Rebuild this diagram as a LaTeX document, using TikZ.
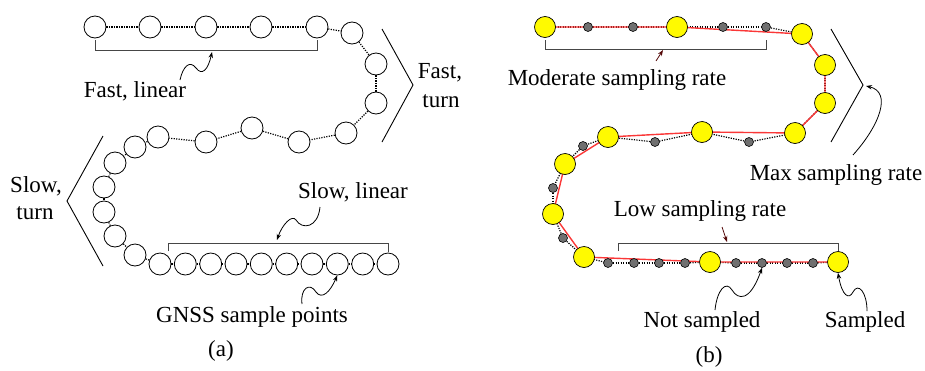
\documentclass[tikz,border=0pt]{standalone}
\usepackage{fontspec}
\setmainfont{Liberation Serif}
\usetikzlibrary{arrows.meta,backgrounds}
\definecolor{dotgray}{RGB}{112,112,112}
\definecolor{trackred}{RGB}{250,55,55}
\definecolor{brk}{RGB}{70,70,70}
\definecolor{darkarrow}{RGB}{85,10,10}
\definecolor{sampyellow}{RGB}{255,250,0}
\begin{document}
\begin{tikzpicture}[x=1pt,y=-1pt,
  pt/.style={circle,draw=black,line width=0.8pt,fill=white,minimum size=22pt,inner sep=0pt},
  ysamp/.style={circle,draw=black,line width=0.7pt,fill=sampyellow,minimum size=21pt,inner sep=0pt},
  gsamp/.style={circle,draw=black,line width=0.6pt,fill=dotgray,minimum size=9pt,inner sep=0pt},
  lbl/.style={font=\fontsize{23}{27}\selectfont,inner sep=0pt,anchor=base},
  conn/.style={black,line width=1.2pt,dash pattern=on 1.2pt off 1.3pt},
  redtrack/.style={trackred,line width=1.4pt},
  bracket/.style={brk,line width=0.9pt},
  chev/.style={black,line width=0.9pt},
  callout/.style={black,line width=0.8pt,-{Stealth[length=6pt,width=4.5pt]}},
  pointer/.style={darkarrow,line width=0.8pt,-{Stealth[length=6pt,width=4.5pt]}}]
\useasboundingbox (0,0) rectangle (925,370);

% ---------------- (a) ----------------
\foreach \n/\x/\y in {1/95/27,2/150/27,3/206/27,4/261/27,5/317/27,6/352/33,7/376/64,
  8/376/103,9/346/133,10/299/142,11/252/128,12/206/142,13/158/137,14/135/147,
  15/115/163,16/104/187,17/104/212,18/115/236,19/135/255,20/160/264,21/185.3/264,
  22/210.7/264,23/236/264,24/261.3/264,25/286.7/264,26/312/264,27/337.3/264,
  28/362.7/264,29/388/264}
  \node[pt] (a\n) at (\x,\y) {};
\foreach \i [evaluate=\i as \j using int(\i+1)] in {1,...,28}
  \draw[conn] (a\i) -- (a\j);

\draw[bracket] (a1 |- 0,40) -- (a1 |- 0,50) -- (a5 |- 0,50) -- (a5 |- 0,40);
\draw[bracket] (168,251) -- (168,243) -- (a29 |- 0,243) -- (a29 |- 0,252);

\draw[chev] (382,29) -- (413,85) -- (382,142);
\draw[chev] (103,136) -- (67,201) -- (103,266);

\node[lbl] (fastlin) at (135,97) {Fast, linear};
\node[lbl] (fastt1) at (440,78) {Fast,};
\node[lbl] (fastt2) at (441,107) {turn};
\node[lbl] (slowt1) at (36,192) {Slow,};
\node[lbl] (slowt2) at (35,219) {turn};
\node[lbl] (slowlin) at (353,198) {Slow, linear};
\node[lbl] (gnss) at (252,322) {GNSS sample points};
\node[lbl] (capa) at (221,356) {(a)};

\coordinate (fl0) at (180,80);  \coordinate (fl1) at (212,52);
\draw[callout] (fl0) .. controls (183,66) and (190,60) .. (196,68)
  .. controls (202,76) and (208,70) .. (fl1);
\coordinate (sl0) at (320,207); \coordinate (sl1) at (277,240);
\draw[callout] (sl0) .. controls (318,228) and (302,230) .. (296,220)
  .. controls (292,214) and (282,225) .. (sl1);
\coordinate (gn0) at (302,304);
\draw[callout] (gn0) .. controls (300,288) and (310,282) .. (316,292)
  .. controls (322,300) and (330,292) .. (a27.south);

% ---------------- (b) ----------------
\foreach \n/\x/\y/\s in {1/545/27/ysamp,2/588/27/gsamp,3/633/27/gsamp,4/677/27/ysamp,
  5/723/27/gsamp,6/766/27/gsamp,7/802/34/ysamp,8/825/65/ysamp,9/825/103/ysamp,
  10/795/133/ysamp,11/749/142/gsamp,12/702/132/ysamp,13/655/142/gsamp,14/608/137/ysamp,
  15/583/146/gsamp,16/565/164/ysamp,17/553/188/gsamp,18/553/214/ysamp,19/563/238/gsamp,
  20/584/257/ysamp,21/608/263/gsamp,22/634/263/gsamp,23/659/263/gsamp,24/685/263/gsamp,
  25/710/262/ysamp,26/736/263/gsamp,27/762/263/gsamp,28/787/263/gsamp,29/813/263/gsamp,
  30/838/262/ysamp}
  \node[\s] (b\n) at (\x,\y) {};
\begin{pgfonlayer}{background}
\foreach \i [evaluate=\i as \j using int(\i+1)] in {1,...,29}
  \draw[conn] (b\i.center) -- (b\j.center);
\draw[redtrack] (b1.center) -- (b4.center) -- (b7.center) -- (b8.center) -- (b9.center)
  -- (b10.center) -- (b12.center) -- (b14.center) -- (b16.center) -- (b18.center)
  -- (b20.center) -- (b25.center) -- (b30.center);
\end{pgfonlayer}

\draw[bracket] (b1 |- 0,40) -- (b1 |- 0,49) -- (b6 |- 0,49) -- (b6 |- 0,40);
\draw[bracket] (618,251) -- (618,243) -- (b30 |- 0,243) -- (b30.north);

\draw[chev] (831,29) -- (863,85) -- (831,142);

\node[lbl] (moder) at (617,85) {Moderate sampling rate};
\node[lbl] (maxr) at (836,180) {Max sampling rate};
\node[lbl] (lowr) at (700,216) {Low sampling rate};
\node[lbl] (nots) at (702,327) {Not sampled};
\node[lbl] (samp) at (865,327) {Sampled};
\node[lbl] (capb) at (709,362) {(b)};

\coordinate (md0) at (656,61); \coordinate (md1) at (663,50);
\draw[pointer] (md0) -- (md1);
\coordinate (lw0) at (722,227); \coordinate (lw1) at (727,242);
\draw[pointer] (lw0) -- (lw1);
\coordinate (mx0) at (853,155); \coordinate (mx1) at (866,86);
\draw[callout] (mx0) .. controls (880,125) and (892,92) .. (mx1);
\coordinate (ns0) at (715,310);
\draw[callout] (ns0) .. controls (717,290) and (726,280) .. (732,290)
  .. controls (738,300) and (750,302) .. (b27.south);
\coordinate (sp0) at (867,311);
\draw[callout] (sp0) .. controls (867,292) and (858,282) .. (853,292)
  .. controls (849,300) and (842,296) .. (b30.south);
\end{tikzpicture}
\end{document}
